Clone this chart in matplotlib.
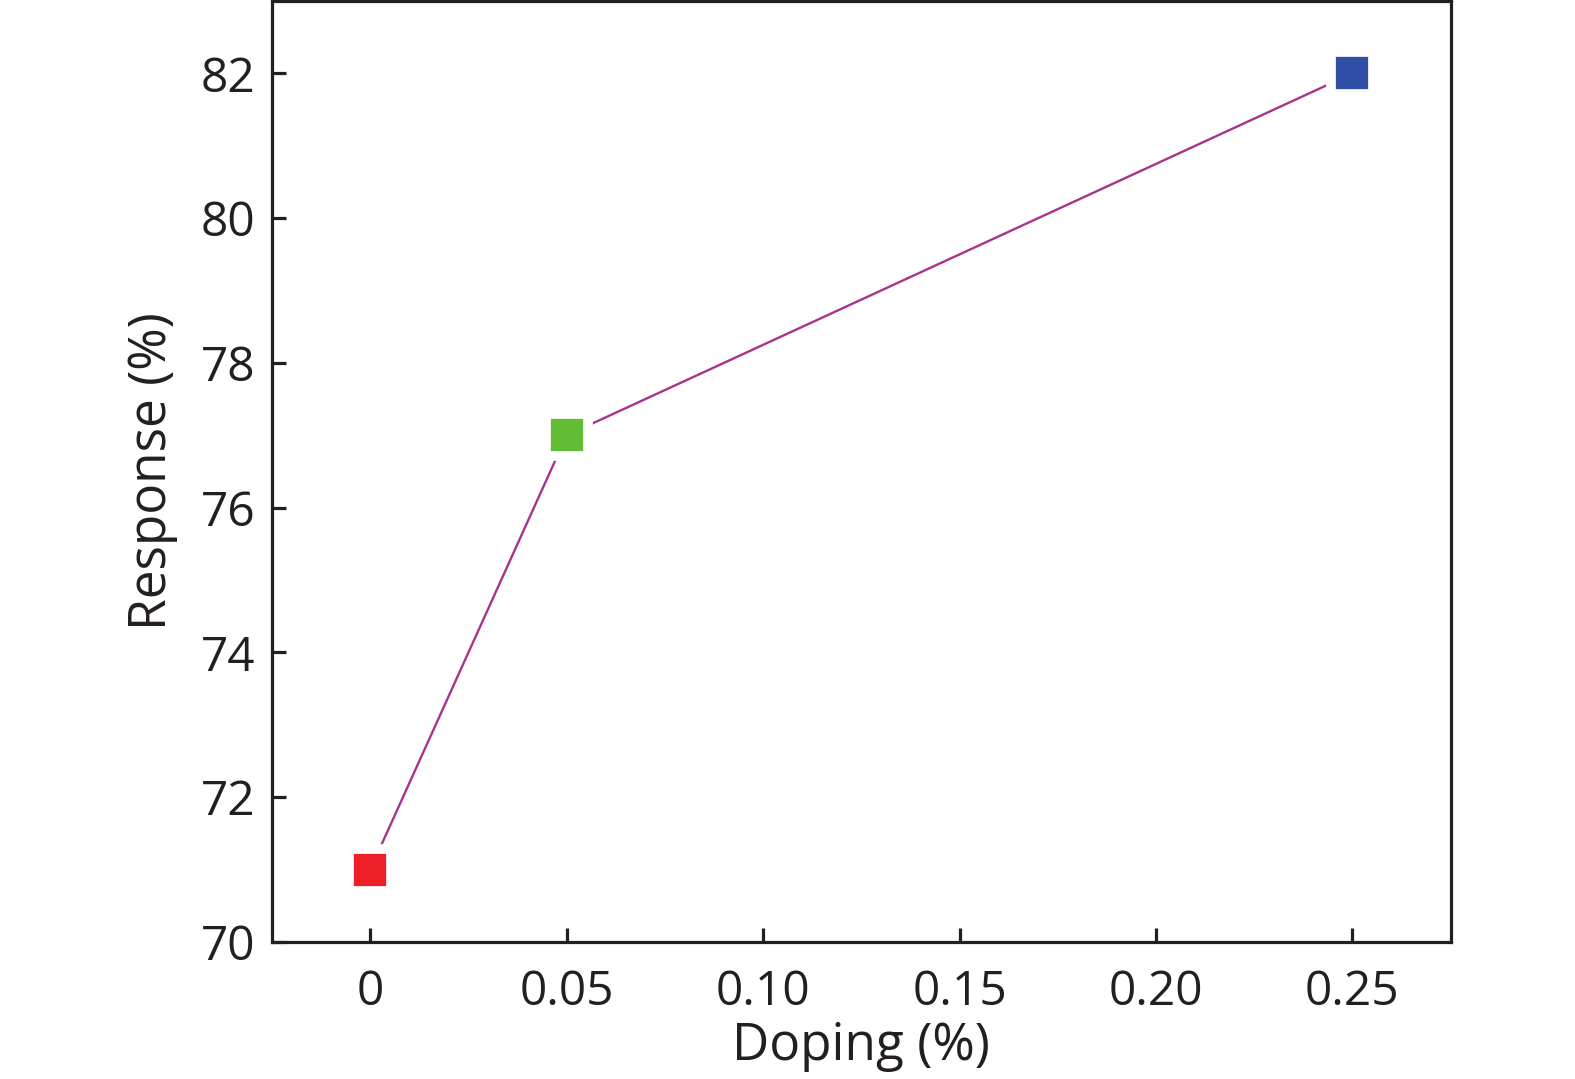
import matplotlib
matplotlib.use('Agg')
import matplotlib.pyplot as plt

plt.rcParams['font.family'] = ['Open Sans', 'DejaVu Sans']

# data
doping = [0, 0.05, 0.25]
response = [71, 77, 82]
colors = ['#ed2027', '#62bd34', '#2f4ea5']
xticks = [0, 0.05, 0.10, 0.15, 0.20, 0.25]
xlabels = ['0', '0.05', '0.10', '0.15', '0.20', '0.25']
yticks = [70, 72, 74, 76, 78, 80, 82]

dark = '#231f20'

fig = plt.figure(figsize=(15.75, 10.79), dpi=100)
ax = fig.add_axes([0.1727, 0.127, 0.7483, 0.872])

ax.plot(doping, response, color='#a8348a', lw=1.7, zorder=1)
for x, y, c in zip(doping, response, colors):
    ax.plot(x, y, 's', ms=30, mfc=c, mec='white', mew=7, zorder=2)

ax.set_xlim(-0.025, 0.275)
ax.set_ylim(70, 83)
ax.set_xticks(xticks)
ax.set_xticklabels(xlabels)
ax.set_yticks(yticks)

for s in ax.spines.values():
    s.set_linewidth(2.3)
    s.set_color(dark)
ax.tick_params(direction='in', length=10, width=2.3, colors=dark,
               labelsize=34.5, pad=12)
ax.tick_params(axis='x', pad=19)
ax.set_xlabel('Doping (%)', fontsize=37, color=dark, labelpad=4)
ax.set_ylabel('Response (%)', fontsize=37, color=dark, labelpad=16)

fig.savefig('out.png', dpi=100)
